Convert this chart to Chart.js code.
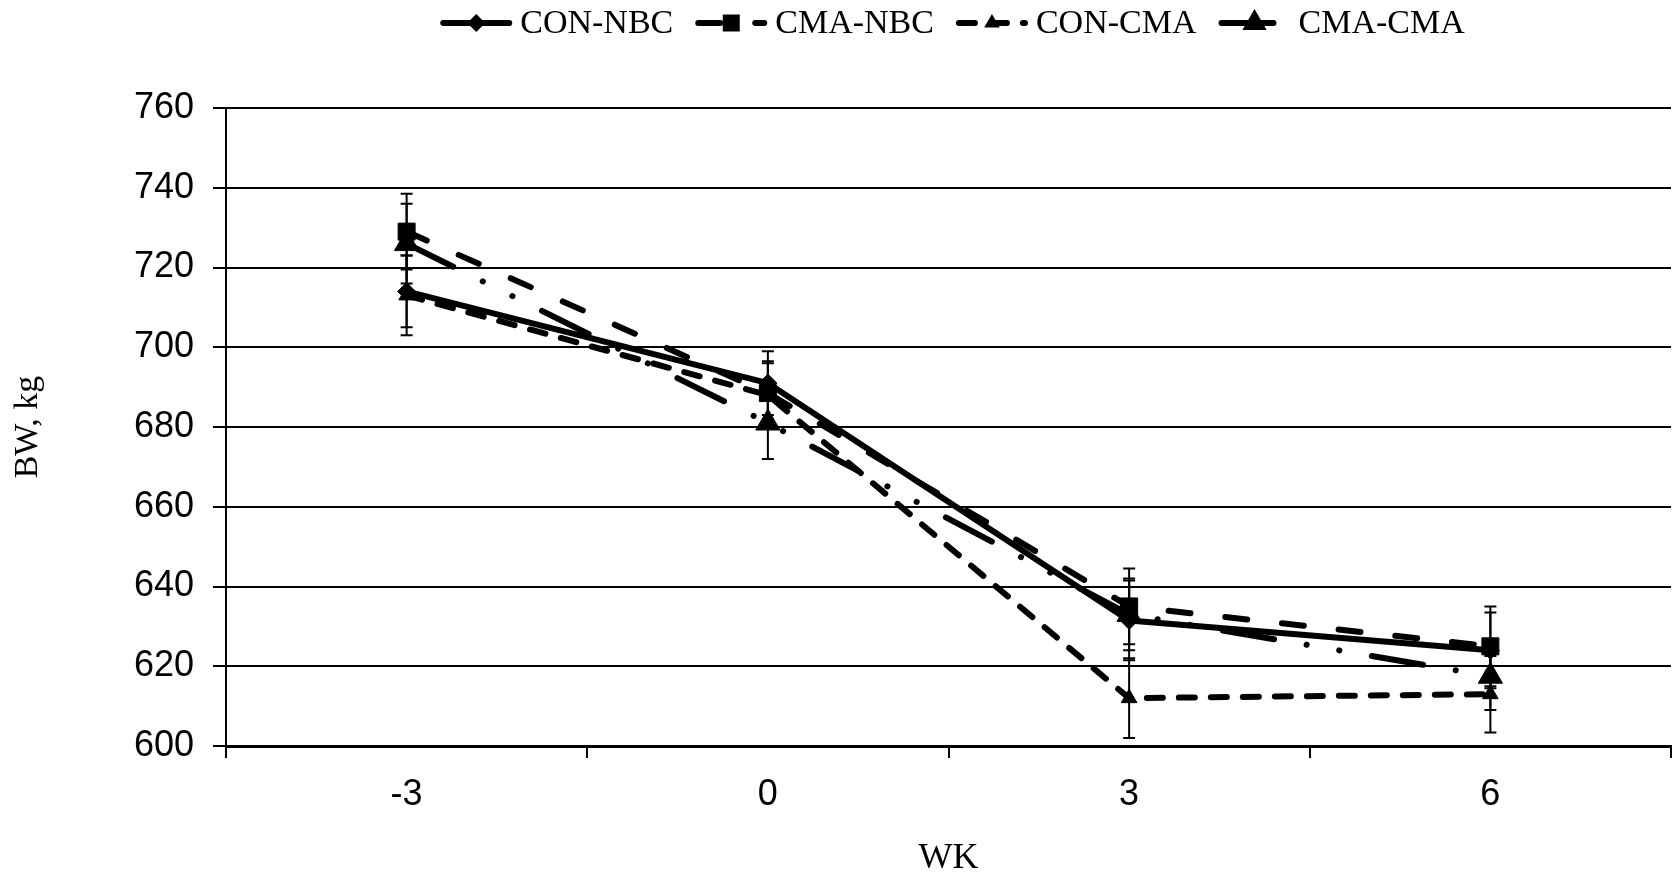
<!DOCTYPE html>
<html>
<head>
<meta charset="utf-8">
<title>BW per minggu</title>
<script src="https://cdn.jsdelivr.net/npm/chart.js@4.4.1/dist/chart.umd.min.js"></script>
<style>
    html, body { margin: 0; padding: 0; background: #fff; overflow: hidden; }
    #chartBW { display: block; background: #fff; }
</style>
</head>
<body>
<canvas id="chartBW" width="1673" height="880"></canvas>
<script>
// Minggu pengukuran (label sumbu X)
const weeks = ['-3', '0', '3', '6'];

// Rataan BW (kg) per perlakuan
const conNbc = [714, 691, 631.5, 624];
const cmaNbc = [729, 688.5, 635, 625];
const conCma = [713, 688, 612, 613];
const cmaCma = [726, 681, 633, 617.5];

// Galat baku per titik
const conNbcErr = [9, 8, 10, 9.5];
const cmaNbcErr = [9.5, 8, 9.5, 10];
const conCmaErr = [10, 8, 10, 9.6];
const cmaCmaErr = [10, 9, 9, 8.5];

// Sumbu Y
const yMin = 600;
const yMax = 760;
const yStep = 20;

const serif = 'Liberation Serif';
const sans = 'Liberation Sans';

/* gambar marker sederhana untuk legend */
function drawMarker(ctx, style, x, y, r) {
    ctx.beginPath();
    if (style === 'rect') {
        const s = r * Math.SQRT1_2;
        ctx.rect(x - s, y - s, 2 * s, 2 * s);
    } else if (style === 'triangle') {
        ctx.moveTo(x, y - r);
        ctx.lineTo(x + r * Math.sin(2 * Math.PI / 3), y + r / 2);
        ctx.lineTo(x - r * Math.sin(2 * Math.PI / 3), y + r / 2);
        ctx.closePath();
    } else {
        ctx.moveTo(x, y - r);
        ctx.lineTo(x + r, y);
        ctx.lineTo(x, y + r);
        ctx.lineTo(x - r, y);
        ctx.closePath();
    }
    ctx.fill();
}

/* Legend di atas grafik */
const topLegend = {
    id: 'topLegend',
    afterDraw(chart) {
        const ctx = chart.ctx;
        ctx.save();
        ctx.font = '34px "' + serif + '"';
        const sampleW = 72, gapText = 8, gapItem = 22;
        const items = chart.data.datasets.map(ds => ({ ds: ds, w: ctx.measureText(ds.label).width }));
        const total = items.reduce((s, it) => s + sampleW + gapText + it.w, 0) + gapItem * (items.length - 1);
        let x = (chart.chartArea.left + chart.chartArea.right) / 2 + 4 - total / 2;
        const y = 23;
        items.forEach(it => {
            const ds = it.ds;
            ctx.strokeStyle = '#000';
            ctx.fillStyle = '#000';
            ctx.lineWidth = ds.borderWidth;
            ctx.lineCap = 'round';
            ctx.setLineDash(ds.borderDash || []);
            ctx.beginPath();
            ctx.moveTo(x + 3, y);
            ctx.lineTo(x + sampleW - 3, y);
            ctx.stroke();
            ctx.setLineDash([]);
            drawMarker(ctx, ds.pointStyle, x + sampleW / 2, y, ds.pointRadius);
            ctx.textBaseline = 'middle';
            ctx.textAlign = 'left';
            ctx.fillText(ds.label, x + sampleW + gapText, y + 1);
            x += sampleW + gapText + it.w + gapItem;
        });
        ctx.restore();
    }
};

/* Error bar (SE) */
const errorBars = {
    id: 'errorBars',
    beforeDatasetsDraw(chart) {
        const ctx = chart.ctx;
        const yScale = chart.scales.y;
        ctx.save();
        ctx.strokeStyle = '#000';
        ctx.lineWidth = 2;
        chart.data.datasets.forEach((ds, i) => {
            const meta = chart.getDatasetMeta(i);
            meta.data.forEach((pt, j) => {
                const v = ds.data[j], e = ds.errors[j];
                const yTop = yScale.getPixelForValue(v + e);
                const yBot = yScale.getPixelForValue(v - e);
                ctx.beginPath();
                ctx.moveTo(pt.x, yTop); ctx.lineTo(pt.x, yBot);
                ctx.moveTo(pt.x - 6, yTop); ctx.lineTo(pt.x + 6, yTop);
                ctx.moveTo(pt.x - 6, yBot); ctx.lineTo(pt.x + 6, yBot);
                ctx.stroke();
            });
        });
        ctx.restore();
    }
};

function series(label, data, errors, dash, pointStyle, radius) {
    return {
        label: label,
        data: data,
        errors: errors,
        borderColor: '#000',
        backgroundColor: '#000',
        borderWidth: 6,
        borderDash: dash,
        borderCapStyle: 'round',
        borderJoinStyle: 'round',
        pointStyle: pointStyle,
        pointRadius: radius,
        pointBackgroundColor: '#000',
        pointBorderColor: '#000',
        pointBorderWidth: 1,
        tension: 0,
        fill: false
    };
}

new Chart(document.getElementById('chartBW'), {
    type: 'line',
    data: {
        labels: weeks,
        datasets: [
            series('CON-NBC', conNbc, conNbcErr, [], 'rectRot', 9),
            series('CMA-NBC', cmaNbc, cmaNbcErr, [22, 35], 'rect', 12),
            series('CON-CMA', conCma, conCmaErr, [16, 16], 'triangle', 9),
            series('CMA-CMA', cmaCma, cmaCmaErr, [52, 33, 0.1, 33, 0.1, 33], 'triangle', 14)
        ]
    },
    options: {
        responsive: false,
        animation: false,
        events: [],
        layout: { autoPadding: false, padding: { top: 108, right: 2, left: 0, bottom: 0 } },
        plugins: { legend: { display: false }, tooltip: { enabled: false } },
        scales: {
            x: {
                type: 'category',
                offset: true,
                grid: { offset: true, drawOnChartArea: false, drawTicks: true, tickLength: 12, color: '#000', lineWidth: 2 },
                border: { color: '#000', width: 3 },
                ticks: { font: { family: sans, size: 36 }, color: '#000', padding: 15, maxRotation: 0 },
                title: { display: true, text: 'WK', font: { family: serif, size: 36 }, color: '#000', padding: { top: 0, bottom: 0 } },
                afterFit(scale) {
                    scale.height = 134;
                    scale.paddingLeft = 0;
                    scale.paddingRight = 0;
                }
            },
            y: {
                min: yMin,
                max: yMax,
                ticks: { stepSize: yStep, font: { family: sans, size: 36 }, color: '#000', padding: 19 },
                grid: { color: '#000', lineWidth: 2, tickLength: 13 },
                border: { color: '#000', width: 2 },
                title: { display: true, text: 'BW, kg', font: { family: serif, size: 34 }, color: '#000', padding: { top: 8, bottom: 0 } },
                afterFit(scale) { scale.width = 226; }
            }
        }
    },
    plugins: [errorBars, topLegend]
});
</script>
</body>
</html>
